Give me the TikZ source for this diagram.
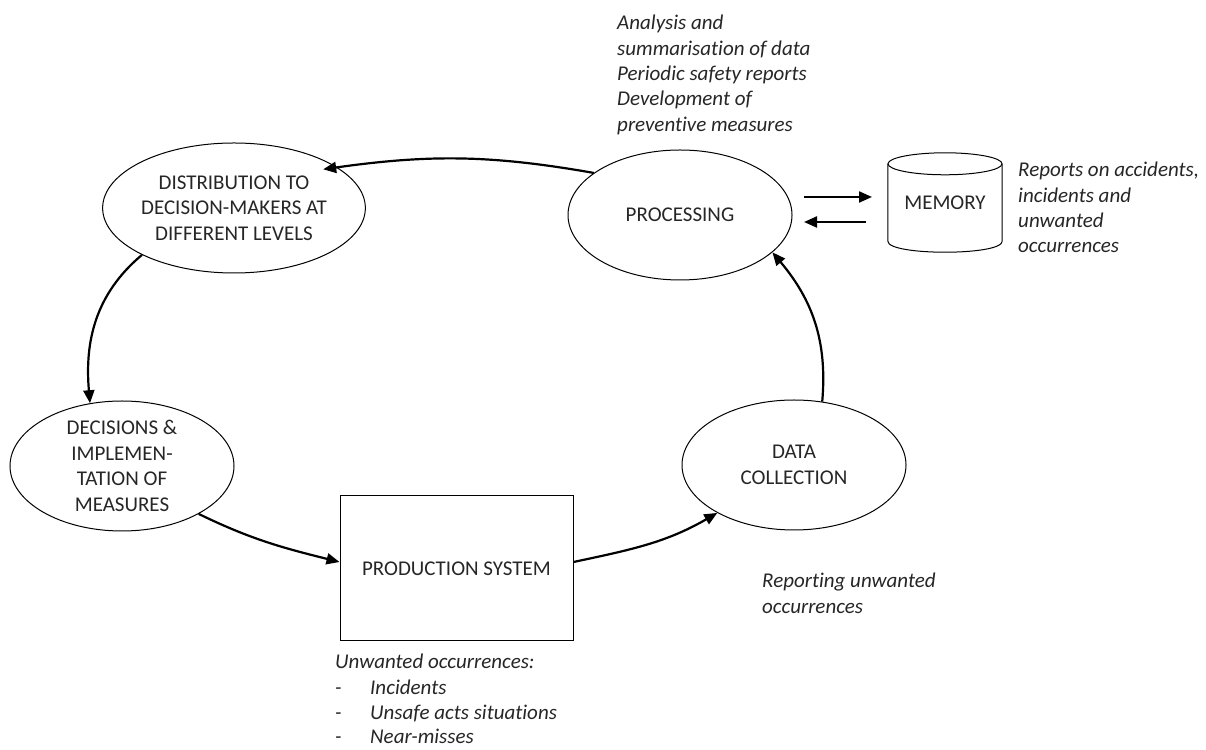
\documentclass[tikz,border=0pt]{standalone}
\usepackage{fontspec}
\setmainfont{Carlito}[Ligatures=NoCommon]
\usetikzlibrary{shapes.geometric,arrows.meta}

\begin{document}
\begin{tikzpicture}[x=1pt, y=1pt,
  every node/.style={font=\fontsize{21}{25.4}\selectfont, text=black!85},
  stage/.style={ellipse, draw, line width=1pt, minimum width=224pt, minimum height=130pt, align=center, inner sep=0pt},
  flow/.style={-{Triangle[length=13pt,width=11pt]}, line width=2.2pt},
  note/.style={font=\fontsize{21}{25.4}\selectfont\itshape, align=left, anchor=north west, inner sep=0pt}]

\useasboundingbox (0,0) rectangle (1206,749);

\node[stage] (dist) at (234,541) {DISTRIBUTION TO\\DECISION-MAKERS AT\\DIFFERENT LEVELS};
\node[stage] (proc) at (680,534) {PROCESSING};
\node[stage] (dec) at (122,283) {DECISIONS \&\\IMPLEMEN-\\TATION OF\\MEASURES};
\node[stage] (data) at (794,284) {DATA\\COLLECTION};
\node[draw, line width=1pt, minimum width=233pt, minimum height=145pt] (prod) at (456.5,180.5) {PRODUCTION SYSTEM};
\node[minimum width=114pt, minimum height=99pt, inner sep=0pt] (mem) at (945,546.5) {MEMORY};

\draw[line width=1pt] ([yshift=-11pt]mem.north) ellipse[x radius=57pt, y radius=11pt];
\draw[line width=1pt] ([yshift=-11pt]mem.north west) -- ([yshift=11pt]mem.south west)
  .. controls ([yshift=-3.7pt]mem.south west) and ([yshift=-3.7pt]mem.south east) .. ([yshift=11pt]mem.south east)
  -- ([yshift=-11pt]mem.north east);

\coordinate (toMemA) at (804,552);
\coordinate (toMemB) at (872,552);
\coordinate (fromMemA) at (866,527);
\coordinate (fromMemB) at (804,527);

\draw[flow] (proc.154) to[out=170, in=8] ([xshift=-9pt,yshift=-5pt]dist.24);
\draw[flow] (dist.207) to[out=220, in=95] (dec.117);
\draw[flow] (dec.-32) to[out=-26, in=166] ([yshift=6.5pt]prod.west);
\draw[flow] ([yshift=6.5pt]prod.east) to[out=12, in=210] (data.212);
\draw[flow] (data.66) to[out=85, in=-50] (proc.-22);
\draw[flow] (toMemA) -- (toMemB);
\draw[flow] (fromMemA) -- (fromMemB);

\node[note] (procnote) at (617,734) {Analysis and\\summarisation of data\\Periodic safety reports\\Development of\\preventive measures};
\node[note] (memnote) at (1018,587) {Reports on accidents,\\incidents and\\unwanted\\occurrences};
\node[note] (datanote) at (762,176) {Reporting unwanted\\occurrences};
\node[note] (prodnote) at (335,95) {Unwanted occurrences:\\
  \makebox[35pt][l]{-}Incidents\\
  \makebox[35pt][l]{-}Unsafe acts situations\\[-1.5pt]
  \makebox[35pt][l]{-}Near-misses};

\end{tikzpicture}
\end{document}
